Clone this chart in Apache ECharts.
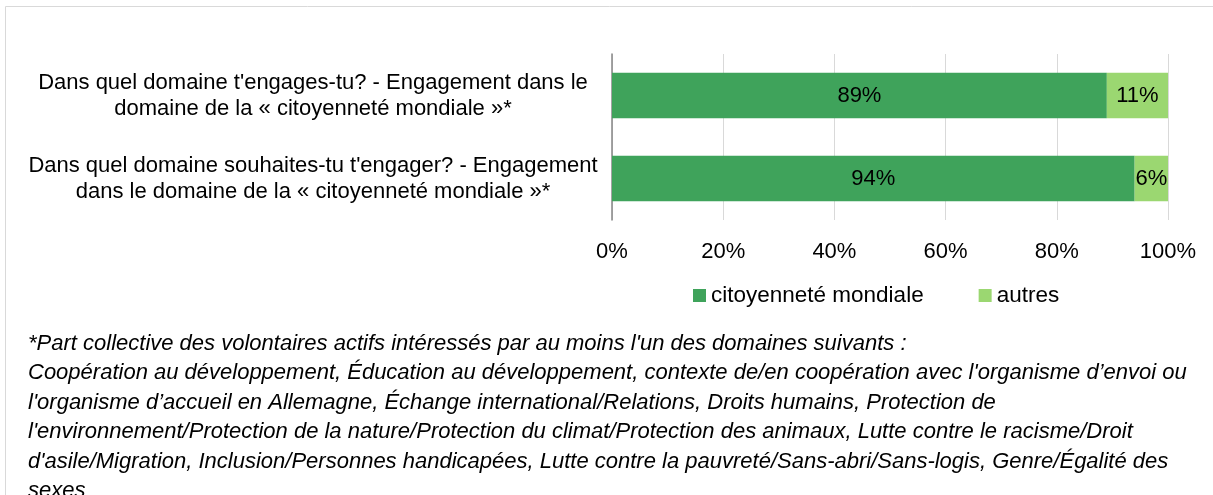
<!DOCTYPE html>
<html>
<head>
<meta charset="utf-8">
<script src="https://cdn.jsdelivr.net/npm/echarts@6/dist/echarts.min.js"></script>
<style>
  html, body { margin: 0; padding: 0; background: #fff; }
  #chart { width: 1213px; height: 495px; }
</style>
</head>
<body>
<div id="chart"></div>
<script>
var categories = [
    "Dans quel domaine t'engages-tu? - Engagement dans le\ndomaine de la « citoyenneté mondiale »*",
    "Dans quel domaine souhaites-tu t'engager? - Engagement\ndans le domaine de la « citoyenneté mondiale »*"
];
var seriesNames = ['citoyenneté mondiale', 'autres'];
var citoyennete = [89, 94];
var autres = [11, 6];
var xTicks = [0, 20, 40, 60, 80, 100];

var footnote = [
    "*Part collective des volontaires actifs intéressés par au moins l'un des domaines suivants :",
    "Coopération au développement, Éducation au développement, contexte de/en coopération avec l'organisme d’envoi ou",
    "l'organisme d’accueil en Allemagne, Échange international/Relations, Droits humains, Protection de",
    "l'environnement/Protection de la nature/Protection du climat/Protection des animaux, Lutte contre le racisme/Droit",
    "d'asile/Migration, Inclusion/Personnes handicapées, Lutte contre la pauvreté/Sans-abri/Sans-logis, Genre/Égalité des",
    "sexes"
];

var font = '"Liberation Sans", Arial, sans-serif';
var chart = echarts.init(document.getElementById('chart'));

// barres empilées horizontales
var option = {
    animation: false,
    textStyle: { fontFamily: font },
    graphic: [
        {
            type: 'rect',
            shape: { x: 5.5, y: 6.5, width: 1300, height: 600 },
            style: { fill: 'none', stroke: '#d9d9d9', lineWidth: 1 }
        },
        {
            type: 'text',
            left: 28,
            top: 329,
            style: {
                text: footnote.join('\n'),
                font: 'italic 22px ' + font,
                fill: '#000',
                lineHeight: 29.5
            }
        }
    ],
    legend: {
        left: 688,
        top: 279,
        itemWidth: 13,
        itemHeight: 13,
        itemGap: 55,
        icon: 'rect',
        textStyle: { fontSize: 22.5, color: '#000', fontFamily: font },
        data: seriesNames
    },
    grid: {
        left: 612,
        right: 45,
        top: 54,
        height: 166,
        containLabel: false
    },
    xAxis: {
        type: 'value',
        min: xTicks[0],
        max: xTicks[xTicks.length - 1],
        interval: 20,
        axisLine: { show: false },
        axisTick: { show: false },
        splitLine: { lineStyle: { color: '#d9d9d9', width: 1 } },
        axisLabel: {
            formatter: '{value}%',
            fontSize: 22,
            color: '#000',
            margin: 21
        }
    },
    yAxis: {
        type: 'category',
        inverse: true,
        data: categories,
        axisLine: { lineStyle: { color: '#868686', width: 1.5 } },
        axisTick: { length: 7, lineStyle: { color: '#868686', width: 1.5 } },
        axisLabel: {
            fontSize: 22,
            color: '#000',
            align: 'center',
            margin: 299,
            lineHeight: 26
        }
    },
    series: [
        {
            name: seriesNames[0],
            type: 'bar',
            stack: 'total',
            barCategoryGap: '45%',
            data: citoyennete,
            itemStyle: { color: '#3fa35b' },
            label: {
                show: true,
                position: 'inside',
                formatter: '{c}%',
                fontSize: 22,
                color: '#000'
            }
        },
        {
            name: seriesNames[1],
            type: 'bar',
            stack: 'total',
            barCategoryGap: '45%',
            data: autres,
            itemStyle: { color: '#9bd771' },
            label: {
                show: true,
                position: 'inside',
                formatter: '{c}%',
                fontSize: 22,
                color: '#000'
            }
        }
    ]
};

chart.setOption(option);
</script>
</body>
</html>
